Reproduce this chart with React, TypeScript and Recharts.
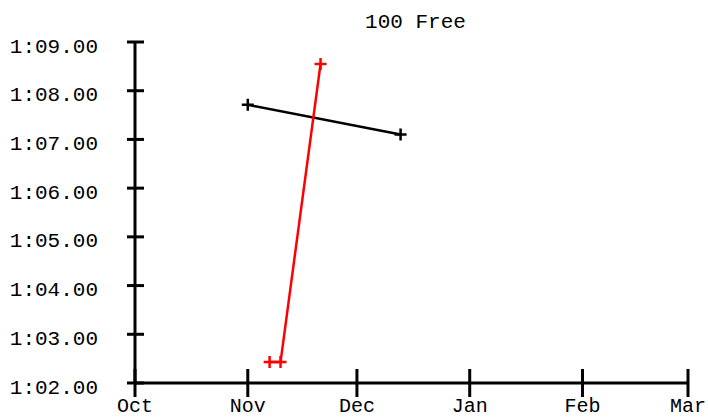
import { LineChart, Line, XAxis, YAxis } from "recharts";

// days since Oct 1 (leap year, so Mar 1 = day 152)
const monthTicks = [0, 31, 61, 92, 123, 152];
const monthLabels = ["Oct", "Nov", "Dec", "Jan", "Feb", "Mar"];
const timeTicks = [62, 63, 64, 65, 66, 67, 68, 69];

// black swimmer
const blackDays = [31, 73];
const blackTimes = [67.71, 67.1];
// red swimmer
const redDays = [37, 40, 51];
const redTimes = [62.43, 62.43, 68.55];

const FONT = "'Liberation Mono', 'Courier New', monospace";

const blackData = blackDays.map((d, i) => ({ day: d, time: blackTimes[i] }));
const redData = redDays.map((d, i) => ({ day: d, time: redTimes[i] }));

const formatTime = (s: number) => {
    const min = Math.floor(s / 60);
    const sec = (s - min * 60).toFixed(2).padStart(5, "0");
    return `${min}:${sec}`;
};

const Cross = (props: any) => {
    const { cx, cy, stroke } = props;
    if (cx == null || cy == null) return null;
    return (
        <path
            d={`M${cx - 6},${cy}h12M${cx},${cy - 6}v12`}
            stroke={stroke}
            strokeWidth={2.5}
            fill="none"
        />
    );
};

const MonthTick = (props: any) => {
    const { x, y, payload } = props;
    const label = monthLabels[monthTicks.indexOf(payload.value)];
    return (
        <g>
            <line x1={x} x2={x} y1={y - 14} y2={y + 14} stroke="#000" strokeWidth={3} />
            <text x={x} y={y + 29} textAnchor="middle" fontFamily={FONT} fontSize={20} fill="#000">
                {label}
            </text>
        </g>
    );
};

const TimeTick = (props: any) => {
    const { x, y, payload } = props;
    return (
        <g>
            <line x1={x - 8} x2={x + 9} y1={y} y2={y} stroke="#000" strokeWidth={3} />
            <text x={x - 37} y={y + 10.5} textAnchor="end" fontFamily={FONT} fontSize={21} fill="#000">
                {formatTime(payload.value)}
            </text>
        </g>
    );
};

export default function App() {
    return (
        <div style={{ position: "absolute", left: 0, top: 0, width: 708, height: 418, background: "#fff" }}>
            <LineChart width={708} height={418} margin={{ top: 42, right: 20, bottom: 0, left: 0 }}>
                <XAxis
                    dataKey="day"
                    type="number"
                    domain={[0, 152]}
                    ticks={monthTicks}
                    interval={0}
                    height={35}
                    tickSize={0}
                    tickMargin={0}
                    tickLine={false}
                    axisLine={{ stroke: "#000", strokeWidth: 3 }}
                    tick={(p: any) => <MonthTick {...p} />}
                    allowDataOverflow
                />
                <YAxis
                    dataKey="time"
                    type="number"
                    domain={[62, 69]}
                    ticks={timeTicks}
                    interval={0}
                    width={135}
                    tickSize={0}
                    tickMargin={0}
                    tickLine={false}
                    axisLine={{ stroke: "#000", strokeWidth: 3 }}
                    tick={(p: any) => <TimeTick {...p} />}
                    allowDataOverflow
                />
                <Line
                    data={blackData}
                    dataKey="time"
                    type="linear"
                    stroke="#000"
                    strokeWidth={2.5}
                    dot={<Cross />}
                    activeDot={false}
                    isAnimationActive={false}
                />
                <Line
                    data={redData}
                    dataKey="time"
                    type="linear"
                    stroke="#ff0000"
                    strokeWidth={2.5}
                    dot={<Cross />}
                    activeDot={false}
                    isAnimationActive={false}
                />
            </LineChart>
            <svg width={708} height={40} style={{ position: "absolute", left: 0, top: 0, pointerEvents: "none" }}>
                <text x={415.5} y={28} textAnchor="middle" fontFamily={FONT} fontSize={21} fill="#000">
                    100 Free
                </text>
            </svg>
        </div>
    );
}
